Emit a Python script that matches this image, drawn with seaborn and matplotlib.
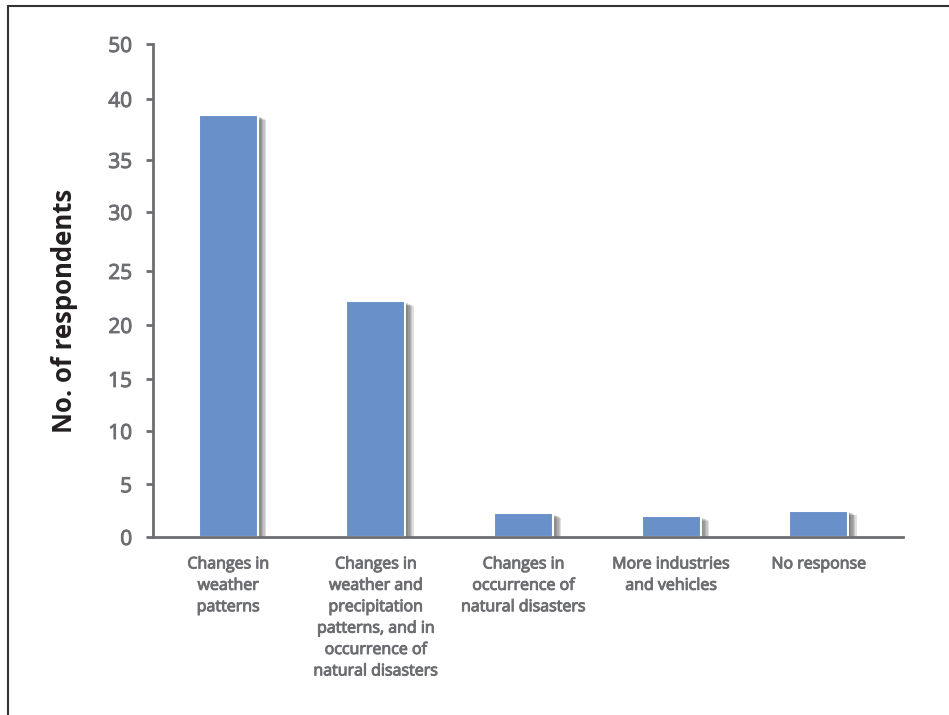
import numpy as np
import matplotlib
matplotlib.use("Agg")
import matplotlib.pyplot as plt
import matplotlib.patheffects as pe
from matplotlib.lines import Line2D
import seaborn as sns

# data
categories = [
    "Changes in\nweather\npatterns",
    "Changes in\nweather and\nprecipitation\npatterns, and in\noccurrence of\nnatural disasters",
    "Changes in\noccurrence of\nnatural disasters",
    "More industries\nand vehicles",
    "No response",
]
respondents = [38.7, 22.2, 2.3, 2.0, 2.5]
tick_values = [0, 5, 10, 15, 20, 25, 30, 35, 40, 50]
tick_labels = ["0", "5", "10", "15", "20", "25", "30", "35", "40", "50"]

# the original axis is unevenly spaced, so map each label to its height
axis_height = [0, 52.7, 106, 158, 212, 266, 325, 377, 438, 493]

def fwd(v):
    return np.interp(v, tick_values, axis_height)

def inv(h):
    return np.interp(h, axis_height, tick_values)

sns.set_style("white")
plt.rcParams["font.family"] = ["Open Sans", "DejaVu Sans"]

axis_grey = "#6d6e71"
bar_blue = "#6990c8"

fig = plt.figure(figsize=(9.49, 7.15), dpi=100)
ax = fig.add_axes([0.1612, 0.2490, 0.7903, 0.6895])

sns.barplot(x=categories, y=respondents, color=bar_blue, width=0.4,
            saturation=1, ax=ax)

# soft drop shadow, built from a few faint offset copies
shadow = [pe.SimplePatchShadow(offset=(dx, dy), shadow_rgbFace="#3a3a3a", alpha=0.16)
          for dx, dy in [(1, -1), (2, -1.5), (3, -2), (4, -2.5), (5, -3), (6, -3.5)]]
for p in ax.patches:
    p.set_edgecolor("white")
    p.set_linewidth(1.5)
    p.set_path_effects(shadow + [pe.Normal()])

ax.set_yscale("function", functions=(fwd, inv))
ax.set_ylim(0, 50)
ax.set_xlim(-0.51, 4.57)
ax.set_yticks(tick_values)
ax.set_yticklabels(tick_labels)
ax.yaxis.set_minor_locator(matplotlib.ticker.NullLocator())

for s in ["top", "right"]:
    ax.spines[s].set_visible(False)
for s in ["left", "bottom"]:
    ax.spines[s].set_color(axis_grey)
    ax.spines[s].set_linewidth(2)

ax.tick_params(axis="y", length=5, width=2, color=axis_grey, labelcolor=axis_grey,
               labelsize=15, pad=10, direction="out", left=True)
ax.tick_params(axis="x", length=0, labelcolor=axis_grey, labelsize=11.5, pad=14)

# fake a semibold weight with a thin stroke of the text colour
heavier = [pe.withStroke(linewidth=0.7, foreground=axis_grey)]
for t in ax.get_yticklabels():
    t.set_path_effects(heavier)
for t in ax.get_xticklabels():
    t.set_path_effects(heavier)
    t.set_linespacing(1.45)
    t.set_verticalalignment("top")

ax.set_xlabel("")
ax.set_ylabel("No. of respondents", fontsize=18.5, fontweight="bold", color="#231f20")
ax.yaxis.set_label_coords(-0.100, 0.458)

# outer frame (top and left edges visible)
fig.add_artist(Line2D([8 / 949, 1], [1 - 6 / 715, 1 - 6 / 715], color="#333333", lw=1.5,
                      transform=fig.transFigure))
fig.add_artist(Line2D([8 / 949, 8 / 949], [0, 1 - 6 / 715], color="#333333", lw=1.5,
                      transform=fig.transFigure))

fig.savefig("out.png", dpi=100)
plt.close(fig)
